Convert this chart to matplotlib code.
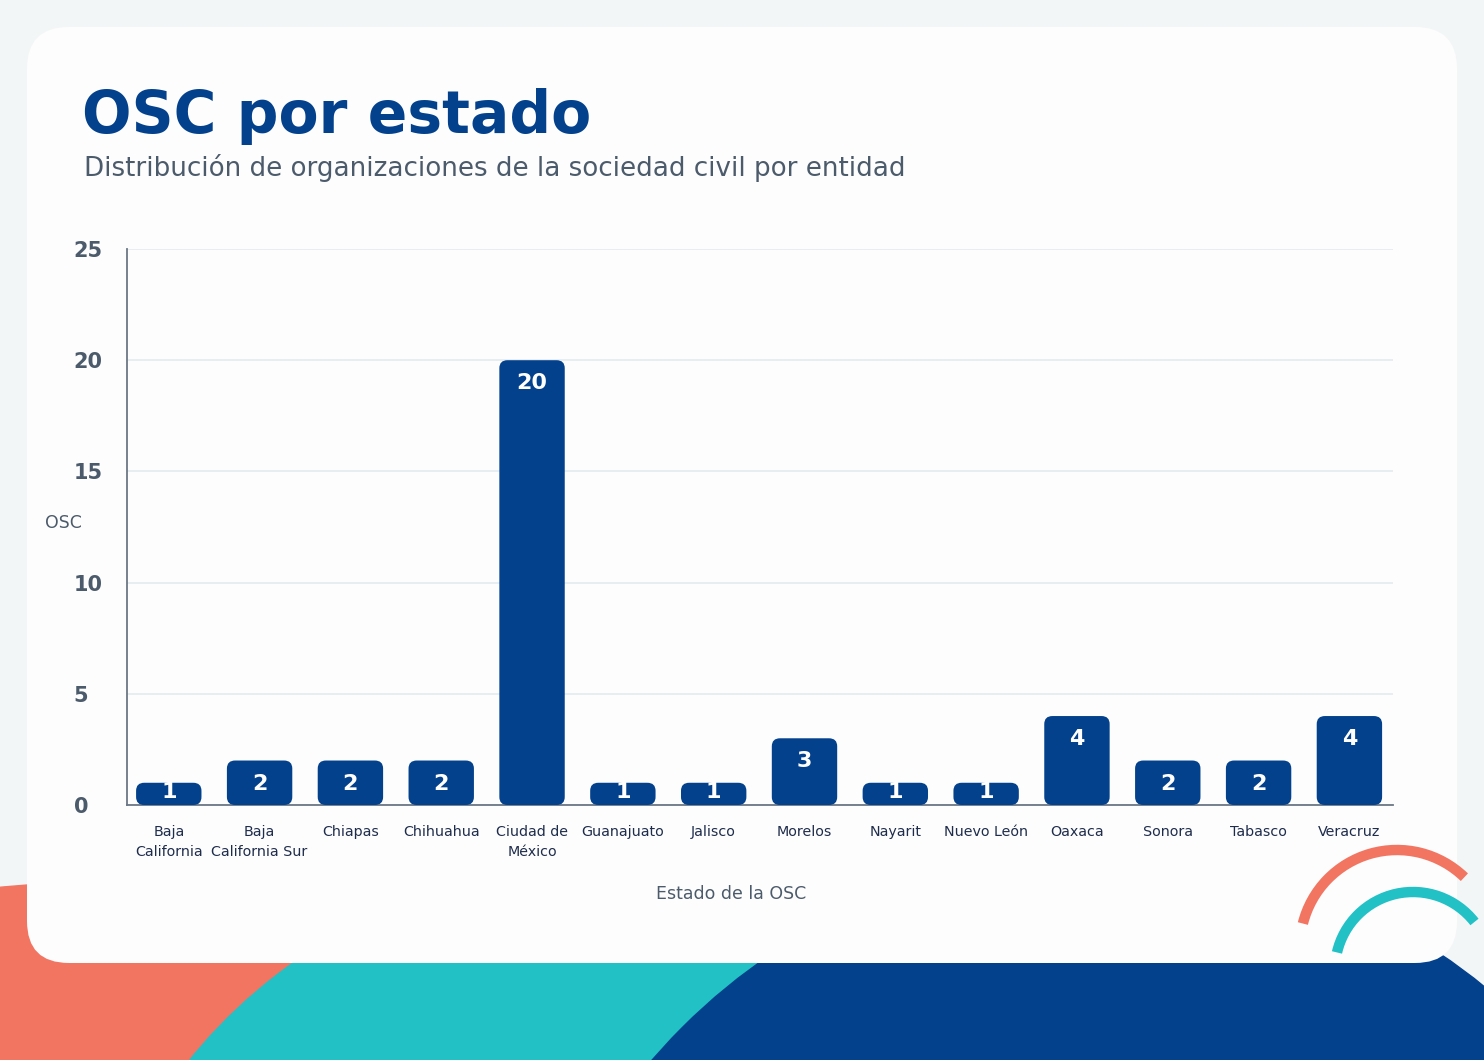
import matplotlib
matplotlib.use("Agg")
import matplotlib.pyplot as plt
from matplotlib.patches import Rectangle, Ellipse, Circle, FancyBboxPatch, Arc

# datos del gráfico
states = ["Baja\nCalifornia", "Baja\nCalifornia Sur", "Chiapas", "Chihuahua",
          "Ciudad de\nMéxico", "Guanajuato", "Jalisco", "Morelos", "Nayarit",
          "Nuevo León", "Oaxaca", "Sonora", "Tabasco", "Veracruz"]
counts = [1, 2, 2, 2, 20, 1, 1, 3, 1, 1, 4, 2, 2, 4]
yticks = [0, 5, 10, 15, 20, 25]

NAVY = "#03418c"
CORAL = "#f27562"
TEAL = "#22c1c6"
GRAY = "#4c5b6b"
W, H = 1484, 1060

plt.rcParams["font.family"] = ["DejaVu Sans"]

fig = plt.figure(figsize=(W / 100, H / 100), dpi=100)

# fondo decorativo, en pixeles (y hacia arriba)
bg = fig.add_axes([0, 0, 1, 1])
bg.set_xlim(0, W)
bg.set_ylim(0, H)
bg.axis("off")
bg.add_patch(Rectangle((0, 0), W, H, color="#f3f6f7", zorder=0))
bg.add_patch(Ellipse((200, H - 1250), 1800, 744, color=CORAL, zorder=1))
bg.add_patch(Ellipse((700, H - 1300), 1196, 920, color=TEAL, zorder=2))
bg.add_patch(Circle((1106, H - 1451), 599, color=NAVY, zorder=3))
bg.add_patch(FancyBboxPatch((27, H - 963), 1430, 936,
                            boxstyle="round,pad=0,rounding_size=42",
                            fc="#fdfdfd", ec="none", zorder=4))
bg.add_patch(Arc((1397, H - 947), 194, 194, theta1=46, theta2=166,
                 color=CORAL, lw=7.5, zorder=5))
bg.add_patch(Arc((1413, H - 970), 156, 156, theta1=38, theta2=167,
                 color=TEAL, lw=7.5, zorder=5))

# titulos
fig.text(82 / W, 1 - 133 / H, "OSC por estado", fontsize=42, fontweight="bold",
         color=NAVY, ha="left", va="baseline")
fig.text(84 / W, 1 - 176 / H, "Distribución de organizaciones de la sociedad civil por entidad",
         fontsize=18.8, color=GRAY, ha="left", va="baseline")

# grafico de barras
ax = fig.add_axes([127 / W, 1 - 805 / H, 1266 / W, 556 / H])
ax.patch.set_alpha(0)
x = list(range(len(states)))
bars = ax.bar(x, counts, width=0.72, color=NAVY)
ax.set_xlim(-0.46, 13.48)
ax.set_ylim(0, 25)

rx = 0.09
for rect, v in zip(bars, counts):
    rect.set_visible(False)
    x0, w, h = rect.get_x(), rect.get_width(), rect.get_height()
    ax.add_patch(FancyBboxPatch((x0, 0), w, h,
                                boxstyle=f"round,pad=0,rounding_size={rx}",
                                mutation_aspect=4.0, fc=NAVY, ec="none", zorder=3))
    if v >= 2:
        ax.annotate(str(v), (x0 + w / 2, h), xytext=(0, -16.6),
                    textcoords="offset points", ha="center", va="center",
                    color="white", fontsize=16, fontweight="bold", zorder=4)
    else:
        ax.annotate(str(v), (x0 + w / 2, h / 2), xytext=(0, 1),
                    textcoords="offset points", ha="center", va="center",
                    color="white", fontsize=16, fontweight="bold", zorder=4)

ax.set_yticks(yticks)
ax.set_yticklabels([str(t) for t in yticks], fontsize=15, fontweight="bold", color=GRAY)
for lbl in ax.get_yticklabels():
    lbl.set_ha("left")
ax.tick_params(axis="y", length=0, pad=38.5)

ax.set_xticks(x)
ax.set_xticklabels(states, fontsize=10.3, color="#1f2d4c", linespacing=1.5)
ax.tick_params(axis="x", length=0, pad=14.5)

ax.grid(axis="y", color="#e2ebef", lw=1.2)
ax.set_axisbelow(True)
for side in ["top", "right"]:
    ax.spines[side].set_visible(False)
for side in ["left", "bottom"]:
    ax.spines[side].set_color("#6b7785")
    ax.spines[side].set_linewidth(1.3)

ax.set_ylabel("OSC", rotation=0, fontsize=12.5, color=GRAY, ha="center", va="center")
ax.yaxis.set_label_coords(-0.0506, 0.507)

fig.text(731 / W, 1 - 894 / H, "Estado de la OSC", fontsize=12.5, color=GRAY,
         ha="center", va="center")

fig.savefig("out.png", dpi=100)
